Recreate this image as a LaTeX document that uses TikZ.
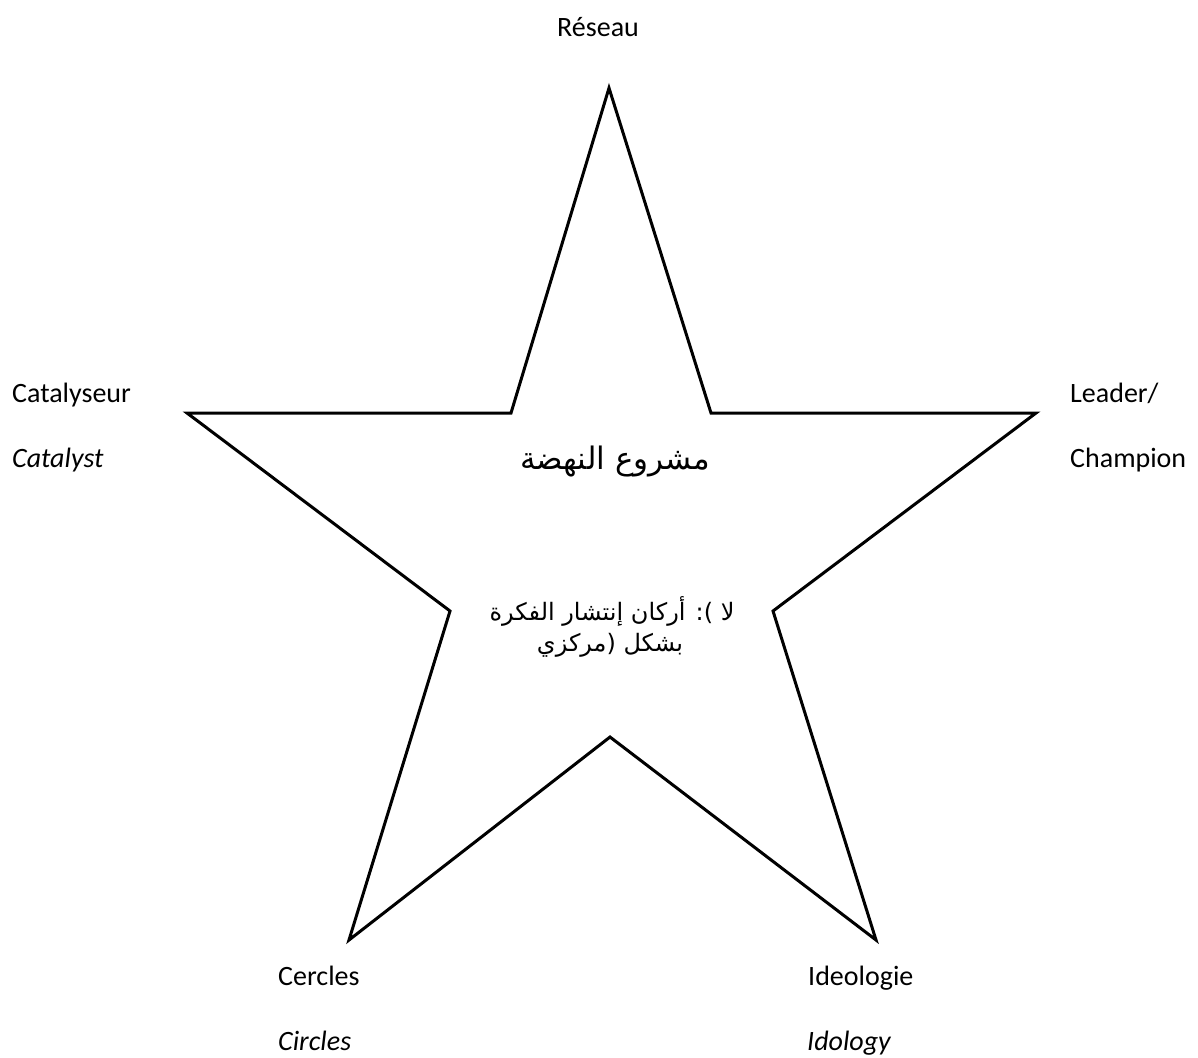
\documentclass[tikz,border=0pt]{standalone}
\usepackage{fontspec}
\setmainfont{Carlito}
\newfontfamily\arabicfont[Script=Arabic]{DejaVu Sans}
\TeXXeTstate=1
\begin{document}
\begin{tikzpicture}[x=1pt,y=-1pt,
  lbl/.style={anchor=base west, inner sep=0pt, font=\fontsize{28}{34}\selectfont},
  artitle/.style={inner sep=0pt, font=\arabicfont\fontsize{31}{36}\selectfont},
  arline/.style={inner sep=0pt, font=\arabicfont\fontsize{24}{29}\selectfont},
  starshape/.style={draw=black, line width=3pt, line join=miter}]
\useasboundingbox (0,0) rectangle (1198,1057);
\draw[starshape] (609,88) -- (511,413) -- (187,413) -- (450,611) -- (349,940)
  -- (610,737) -- (876,940) -- (773,611) -- (1036,413) -- (711,413) -- cycle;
\node[lbl] (reseau) at (557,37) {Réseau};
\node[lbl] (catfr) at (12,402) {Catalyseur};
\node[lbl] (caten) at (12,467) {\itshape Catalyst};
\node[lbl] (leader) at (1070,402) {Leader/};
\node[lbl] (champ) at (1070,467) {Champion};
\node[lbl] (cercfr) at (278,985) {Cercles};
\node[lbl] (circen) at (278,1050) {\itshape Circles};
\node[lbl] (ideofr) at (808,985) {Ideologie};
\node[lbl] (ideoen) at (807,1050) {\itshape Idology};
\node[artitle] (title) at (615,462) {\beginR مشروع النهضة\endR};
\node[arline] (arl1) at (612,611) {\beginR لا ): أركان إنتشار الفكرة\endR};
\node[arline] (arl2) at (610,645) {\beginR بشكل (مركزي\endR};
\end{tikzpicture}
\end{document}
